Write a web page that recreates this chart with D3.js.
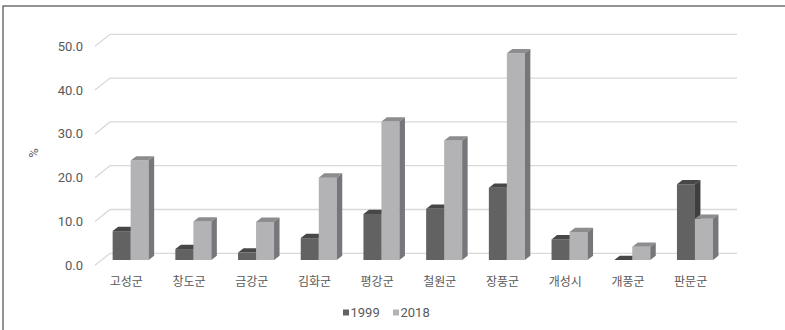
<!DOCTYPE html>
<html>
<head>
<meta charset="utf-8">
<script src="https://cdn.jsdelivr.net/npm/d3@7"></script>
<style>
  body { margin: 0; background: #fff; }
  text { font-family: Roboto, "Noto Sans CJK KR", sans-serif; fill: #595959; }
</style>
</head>
<body>
<script>
// data
const regions = ["고성군", "창도군", "금강군", "김화군", "평강군", "철원군", "장풍군", "개성시", "개풍군", "판문군"];
const v1999 = [6.6, 2.5, 1.7, 5.0, 10.5, 11.7, 16.5, 4.7, 0.0, 17.3];
const v2018 = [22.7, 8.8, 8.7, 18.8, 31.6, 27.3, 47.2, 6.4, 3.0, 9.4];
const seriesNames = ["1999", "2018"];
const yTicks = [0, 10, 20, 30, 40, 50];

const W = 785, H = 330;
const depthX = 15, depthY = -12;   // floor depth
const barDX = 4.3, barDY = -5.3;  // where the bars sit inside the depth
const sideW = 5.5, topH = 4.3;    // bar 3d faces

const colors = {
  "1999": { front: "#626262", top: "#474747", side: "#3e3e3e" },
  "2018": { front: "#b3b3b5", top: "#8d8d8f", side: "#76777a" }
};

const svg = d3.select("body").append("svg")
  .attr("width", W)
  .attr("height", H);

// frame
svg.append("rect")
  .attr("x", 3).attr("y", 6)
  .attr("width", W + 10).attr("height", H + 10)
  .attr("fill", "none")
  .attr("stroke", "#5a5a5a")
  .attr("stroke-width", 1.3);

const x = d3.scaleBand().domain(regions).range([95, 722]);
const yFront = d3.scaleLinear().domain([0, 50]).range([265.3, 46.3]);
const barW = 18;

// gridlines with diagonal floor/back wall
const grid = svg.append("g");
yTicks.forEach(t => {
  const y0 = yFront(t);
  grid.append("path")
    .attr("d", `M95,${y0} L${95 + depthX},${y0 + depthY} L${722 + depthX},${y0 + depthY}`)
    .attr("fill", "none")
    .attr("stroke", "#d9d9d9")
    .attr("stroke-width", 1.3);
});

// y axis labels
svg.append("g").selectAll("text")
  .data(yTicks)
  .enter().append("text")
  .attr("x", 83)
  .attr("y", d => yFront(d))
  .attr("dy", "0.35em")
  .attr("text-anchor", "end")
  .attr("font-size", "13px")
  .text(d => d3.format(".1f")(d));

svg.append("text")
  .attr("transform", "translate(33,153) rotate(-90)")
  .attr("text-anchor", "middle")
  .attr("dy", "0.35em")
  .attr("font-size", "13px")
  .text("%");

// bars
const rows = regions.map((r, i) => ({ region: r, values: [v1999[i], v2018[i]] }));

function drawBar(g, x0, v, c) {
  const yb = yFront(0) + barDY;
  const yt = yFront(v) + barDY;
  g.append("rect")
    .attr("x", x0).attr("y", yt)
    .attr("width", barW).attr("height", Math.max(0, yb - yt))
    .attr("fill", c.front);
  g.append("path")
    .attr("d", `M${x0},${yt} L${x0 + sideW},${yt - topH} L${x0 + barW + sideW},${yt - topH} L${x0 + barW},${yt} Z`)
    .attr("fill", c.top);
  g.append("path")
    .attr("d", `M${x0 + barW},${yt} L${x0 + barW + sideW},${yt - topH} L${x0 + barW + sideW},${yb - topH} L${x0 + barW},${yb} Z`)
    .attr("fill", c.side);
}

const groups = svg.append("g").selectAll("g")
  .data(rows)
  .enter().append("g");

groups.each(function (d) {
  const g = d3.select(this);
  const start = x(d.region) + x.bandwidth() / 2 - barW + barDX;
  d.values.forEach((v, k) => drawBar(g, start + k * barW, v, colors[seriesNames[k]]));
});

// category labels
svg.append("g").selectAll("text")
  .data(regions)
  .enter().append("text")
  .attr("x", d => x(d) + x.bandwidth() / 2)
  .attr("y", 282)
  .attr("dy", "0.35em")
  .attr("text-anchor", "middle")
  .attr("font-family", "'Noto Sans CJK KR', sans-serif")
  .attr("font-size", "12px")
  .text(d => d);

// legend
const legend = svg.append("g");
const legendX = [343, 393];
seriesNames.forEach((s, k) => {
  legend.append("rect")
    .attr("x", legendX[k]).attr("y", 309.5)
    .attr("width", 6).attr("height", 6)
    .attr("fill", colors[s].front);
  legend.append("text")
    .attr("x", legendX[k] + 7.5)
    .attr("y", 312.5)
    .attr("dy", "0.35em")
    .attr("font-size", "13px")
    .text(s);
});
</script>
</body>
</html>
